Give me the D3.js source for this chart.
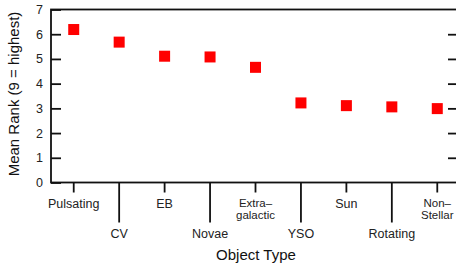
<!DOCTYPE html>
<html>
<head>
<meta charset="utf-8">
<script src="https://cdn.jsdelivr.net/npm/d3@7"></script>
<style>
  body { margin: 0; background: #fff; }
  svg { display: block; font-family: Arial, "Liberation Sans", sans-serif; }
  .tick text { fill: #222; }
</style>
</head>
<body>
<svg id="chart" width="456" height="263"></svg>
<script>
const categories = ['Pulsating', 'CV', 'EB', 'Novae', 'Extra–\ngalactic', 'YSO', 'Sun', 'Rotating', 'Non–\nStellar']
const meanRank = [6.19, 5.68, 5.11, 5.08, 4.66, 3.22, 3.11, 3.06, 2.99]
const yTicks = [0, 1, 2, 3, 4, 5, 6, 7]

const margin = { top: 9.5, right: -4, bottom: 80.5, left: 51 }
const width = 456, height = 263

const svg = d3.select('#chart')

const x = d3.scaleBand() // one band per object type
  .domain(categories)
  .range([margin.left, width - margin.right])

const y = d3.scaleLinear()
  .domain([0, 7])
  .range([height - margin.bottom, margin.top])

// frame
svg.append('rect')
  .attr('x', margin.left)
  .attr('y', y(7))
  .attr('width', x.range()[1] - margin.left)
  .attr('height', y(0) - y(7))
  .attr('fill', 'none')
  .attr('stroke', '#111')
  .attr('stroke-width', 1.8)

// left axis, ticks inward
svg.append('g')
  .attr('transform', `translate(${margin.left},0)`)
  .call(d3.axisLeft(y).tickValues(yTicks).tickFormat(d3.format('d'))
    .tickSizeInner(-10).tickSizeOuter(0).tickPadding(8))
  .call(g => g.select('.domain').remove())
  .call(g => g.selectAll('line').attr('stroke', '#111').attr('stroke-width', 1.8))
  .call(g => g.selectAll('text').attr('font-size', 12.5).attr('font-family', 'Arial, Liberation Sans, sans-serif'))

// right ticks, inward
svg.append('g')
  .attr('transform', `translate(${x.range()[1]},0)`)
  .call(d3.axisRight(y).tickValues(yTicks.slice(1, 7)).tickSizeInner(-12).tickSizeOuter(0).tickFormat(''))
  .call(g => g.select('.domain').remove())
  .call(g => g.selectAll('line').attr('stroke', '#111').attr('stroke-width', 1.8))

// bottom ticks, alternating short / long
const xg = svg.append('g')
  .attr('transform', `translate(0,${y(0)})`)
  .call(d3.axisBottom(x).tickSize(0).tickFormat(''))
  .call(g => g.select('.domain').remove())

xg.selectAll('.tick').each(function (d, i) {
  const t = d3.select(this)
  const len = i % 2 ? 40 : 10
  t.select('line').attr('y2', len).attr('stroke', '#111').attr('stroke-width', 1.8)
  const lines = d.split('\n')
  const wrapped = lines.length > 1
  const txt = t.append('text')
    .attr('fill', '#222')
    .attr('font-size', wrapped ? 11.5 : 12.5)
    .attr('text-anchor', 'middle')
    .attr('y', len + (wrapped ? 14 : 15.5))
  lines.forEach((s, k) => {
    txt.append('tspan').attr('x', 0).attr('dy', k ? 12 : 0).text(s)
  })
})

// points
svg.append('g')
  .selectAll('rect')
  .data(categories.map((c, i) => ({ c, v: meanRank[i] })))
  .join('rect')
  .attr('x', d => x(d.c) + x.bandwidth() / 2 - 5.5)
  .attr('y', d => y(d.v) - 5.5)
  .attr('width', 11)
  .attr('height', 11)
  .attr('fill', '#ff0000')

// axis titles
svg.append('text')
  .attr('transform', `translate(19,${(y(0) + y(7)) / 2 - 2}) rotate(-90)`)
  .attr('text-anchor', 'middle')
  .attr('font-size', 15)
  .attr('fill', '#111')
  .text('Mean Rank (9 = highest)')

svg.append('text')
  .attr('x', 256)
  .attr('y', 260)
  .attr('text-anchor', 'middle')
  .attr('font-size', 15)
  .attr('fill', '#111')
  .text('Object Type')
</script>
</body>
</html>
